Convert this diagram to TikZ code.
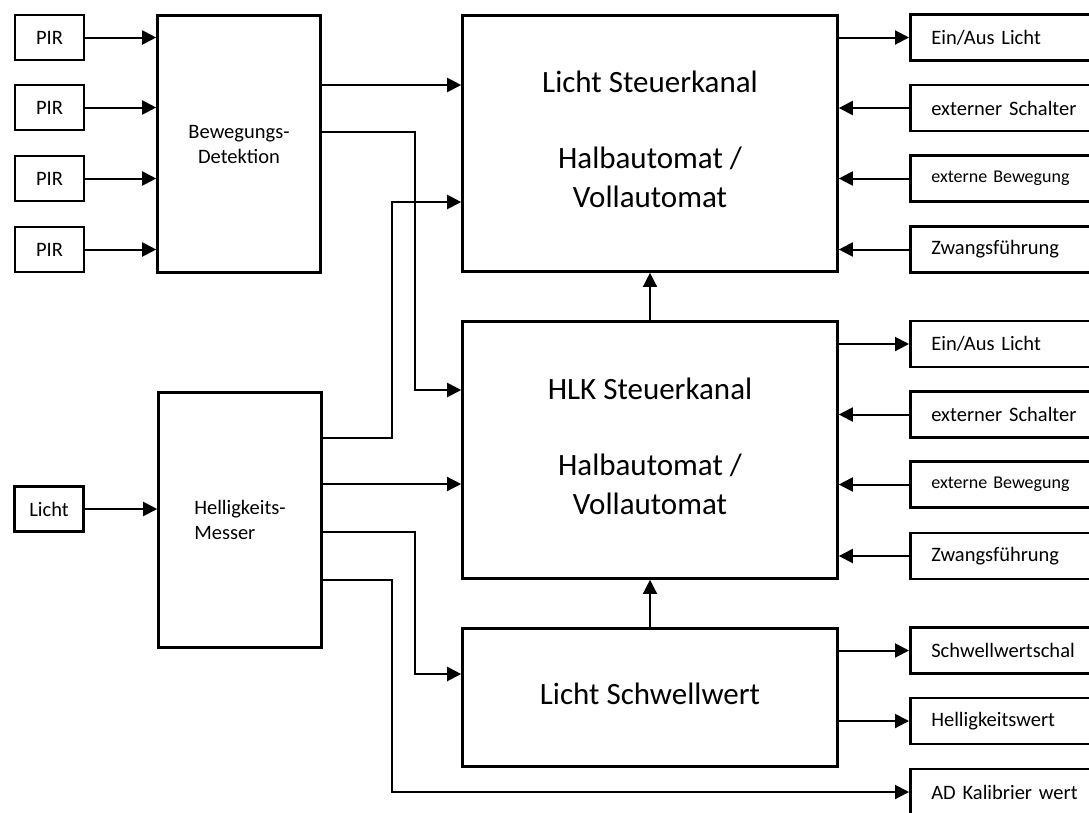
\documentclass[tikz,border=0pt]{standalone}
\usepackage{fontspec}
\setmainfont{Carlito}
\usetikzlibrary{arrows.meta}
\begin{document}
\begin{tikzpicture}[x=1pt,y=-1pt,
  blk/.style={draw, line width=2.6pt, rectangle, inner sep=0pt, align=center,
    font=\fontsize{20.5}{25}\selectfont},
  big/.style={draw, line width=2.6pt, rectangle, inner sep=0pt},
  bigtxt/.style={align=center, inner sep=0pt, yshift=4pt,
    font=\fontsize{31}{39}\selectfont},
  rbox/.style={draw, line width=2.6pt, rectangle, inner ysep=0pt, inner xsep=21pt,
    text width=160pt, align=left, minimum height=46pt, anchor=west,
    font=\fontsize{20.5}{25}\selectfont},
  rboxs/.style={rbox, font=\fontsize{18}{25}\selectfont},
  arr/.style={line width=2pt, -{Triangle[length=14pt,width=14pt]}},
  tarr/.style={line width=1.4pt, -{Triangle[length=14pt,width=14pt]}},
]
\clip (0,0) rectangle (1089,812);
% left inputs
\node[blk, minimum width=69pt, minimum height=45pt] (p1) at (49.5,37.5) {PIR};
\node[blk, minimum width=69pt, minimum height=45pt] (p2) at (49.5,107.5) {PIR};
\node[blk, minimum width=69pt, minimum height=45pt] (p3) at (49.5,178.5) {PIR};
\node[blk, minimum width=69pt, minimum height=45pt] (p4) at (49.5,249.5) {PIR};
\node[blk, minimum width=69pt, minimum height=45pt] (li) at (49,509) {Licht};
% processing blocks
\node[blk, minimum width=163pt, minimum height=257pt] (bw) at (239,144) {Bewegungs-\\Detektion};
\node[blk, align=left, minimum width=163pt, minimum height=255pt] (hm) at (240,520) {Helligkeits-\\Messer};
\node[big, minimum width=375pt, minimum height=256pt,
  label={[bigtxt]center:Licht Steuerkanal\\[37pt]Halbautomat /\\Vollautomat}] (ls) at (650,143.5) {};
\node[big, minimum width=375pt, minimum height=257pt,
  label={[bigtxt]center:HLK Steuerkanal\\[37pt]Halbautomat /\\Vollautomat}] (hlk) at (650,450) {};
\node[big, minimum width=375pt, minimum height=138pt,
  label={[bigtxt]center:Licht Schwellwert}] (lsw) at (650,697.5) {};
% right boxes
\node[rbox] (r1) at (909,37.5) {Ein/Aus Licht};
\node[rbox] (r2) at (909,108) {externer Schalter};
\node[rboxs] (r3) at (909,178.5) {externe Bewegung};
\node[rbox] (r4) at (909,249.5) {Zwangsführung};
\node[rbox] (r5) at (909,344) {Ein/Aus Licht};
\node[rbox] (r6) at (909,414.5) {externer Schalter};
\node[rboxs] (r7) at (909,484.5) {externe Bewegung};
\node[rbox] (r8) at (909,556) {Zwangsführung};
\node[rbox] (r9) at (909,650.5) {Schwellwertschal};
\node[rbox] (r10) at (909,721) {Helligkeitswert};
\node[rbox] (r11) at (909,792) {AD Kalibrier wert};
% inputs to blocks
\foreach \p in {p1,p2,p3,p4} \draw[arr] (\p.east) -- (\p.east -| bw.west);
\draw[arr] (li.east) -- (li.east -| hm.west);
% Bewegungsdetektion outputs
\draw[arr] (bw.east |- 0,85) -- (ls.west |- 0,85);
\draw[arr] (bw.east |- 0,132) -- (415,132) -- (415,390) -- (hlk.west |- 0,390);
% Helligkeitsmesser outputs
\draw[arr] (hm.east |- 0,438) -- (392,438) -- (392,202) -- (ls.west |- 0,202);
\draw[tarr] (hm.east |- 0,484) -- (hlk.west |- 0,484);
\draw[arr] (hm.east |- 0,532) -- (415,532) -- (415,674) -- (lsw.west |- 0,674);
\draw[arr] (hm.east |- 0,580) -- (392,580) -- (392,792) -- (r11.west);
% vertical links
\draw[tarr] (hlk.north) -- (ls.south);
\draw[tarr] (lsw.north) -- (hlk.south);
% right side
\draw[arr] (r1.west -| ls.east) -- (r1.west);
\draw[arr] (r2.west) -- (r2.west -| ls.east);
\draw[arr] (r3.west) -- (r3.west -| ls.east);
\draw[arr] (r4.west) -- (r4.west -| ls.east);
\draw[arr] (r5.west -| hlk.east) -- (r5.west);
\draw[arr] (r6.west) -- (r6.west -| hlk.east);
\draw[arr] (r7.west) -- (r7.west -| hlk.east);
\draw[arr] (r8.west) -- (r8.west -| hlk.east);
\draw[arr] (r9.west -| lsw.east) -- (r9.west);
\draw[arr] (r10.west -| lsw.east) -- (r10.west);
\end{tikzpicture}
\end{document}
